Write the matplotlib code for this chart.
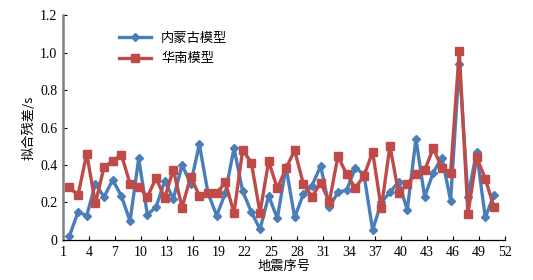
import numpy as np
import matplotlib
matplotlib.use("Agg")
import matplotlib.pyplot as plt

plt.rcParams['font.family'] = ['Liberation Serif', 'Noto Sans CJK SC', 'DejaVu Sans']

# residuals per earthquake (s)
quake_no = np.arange(1, 51)
inner_mongolia = [0.02, 0.15, 0.13, 0.30, 0.23, 0.32, 0.235, 0.10, 0.435, 0.135,
                  0.175, 0.315, 0.22, 0.40, 0.30, 0.51, 0.25, 0.13, 0.25, 0.49,
                  0.26, 0.15, 0.057, 0.235, 0.115, 0.39, 0.12, 0.245, 0.29, 0.395,
                  0.175, 0.255, 0.265, 0.385, 0.35, 0.053, 0.20, 0.255, 0.31, 0.16,
                  0.54, 0.23, 0.36, 0.44, 0.21, 0.94, 0.23, 0.47, 0.12, 0.24]
south_china = [0.28, 0.24, 0.46, 0.195, 0.39, 0.42, 0.455, 0.30, 0.285, 0.23,
               0.33, 0.225, 0.375, 0.173, 0.338, 0.236, 0.25, 0.25, 0.307, 0.145,
               0.48, 0.413, 0.145, 0.42, 0.276, 0.382, 0.478, 0.30, 0.231, 0.305,
               0.204, 0.448, 0.35, 0.278, 0.342, 0.47, 0.168, 0.502, 0.249, 0.30,
               0.354, 0.372, 0.489, 0.384, 0.356, 1.01, 0.137, 0.443, 0.327, 0.176]
xtick_labels = list(range(1, 53, 3))
ytick_values = [0, 0.2, 0.4, 0.6, 0.8, 1.0, 1.2]

blue = '#4A7EBB'
red = '#BE4B48'

fig = plt.figure(figsize=(5.33, 2.8), dpi=100)
ax = fig.add_axes([0.118, 0.143, 0.829, 0.803])

ax.plot(quake_no, inner_mongolia, color=blue, lw=2.4, marker='D', ms=4.5,
        label='内蒙古模型')
ax.plot(quake_no, south_china, color=red, lw=2.4, marker='s', ms=5.5,
        label='华南模型')

# the original axis puts its tick labels a bit to the left of each point
shift = 0.75
ax.set_xlim(1 - shift, 52 - shift)
ax.set_xticks([t - shift for t in xtick_labels])
ax.set_xticklabels([str(t) for t in xtick_labels])
ax.set_ylim(0, 1.2)
ax.set_yticks(ytick_values)
ax.set_yticklabels(['0', '0.2', '0.4', '0.6', '0.8', '1.0', '1.2'])
for lab in ax.get_xticklabels() + ax.get_yticklabels():
    lab.set_family('Liberation Serif')

ax.spines['top'].set_visible(False)
ax.spines['right'].set_visible(False)
ax.spines['left'].set_color('#808080')
ax.spines['left'].set_linewidth(1.8)
ax.spines['bottom'].set_linewidth(0.9)
ax.tick_params(direction='in', labelsize=10, length=3, width=0.8, pad=4)

ax.set_xlabel('地震序号', fontsize=9.5, family=['Noto Sans CJK SC'], labelpad=1)
ax.set_ylabel('拟合残差/s', fontsize=9.5, family=['Noto Sans CJK SC', 'DejaVu Sans'],
              labelpad=3)

leg = ax.legend(loc='upper left', bbox_to_anchor=(0.1, 0.98), frameon=False,
                prop={'family': 'Noto Sans CJK SC', 'size': 9.5},
                handlelength=2.4, labelspacing=0.6)

fig.savefig('out.png', dpi=100)
